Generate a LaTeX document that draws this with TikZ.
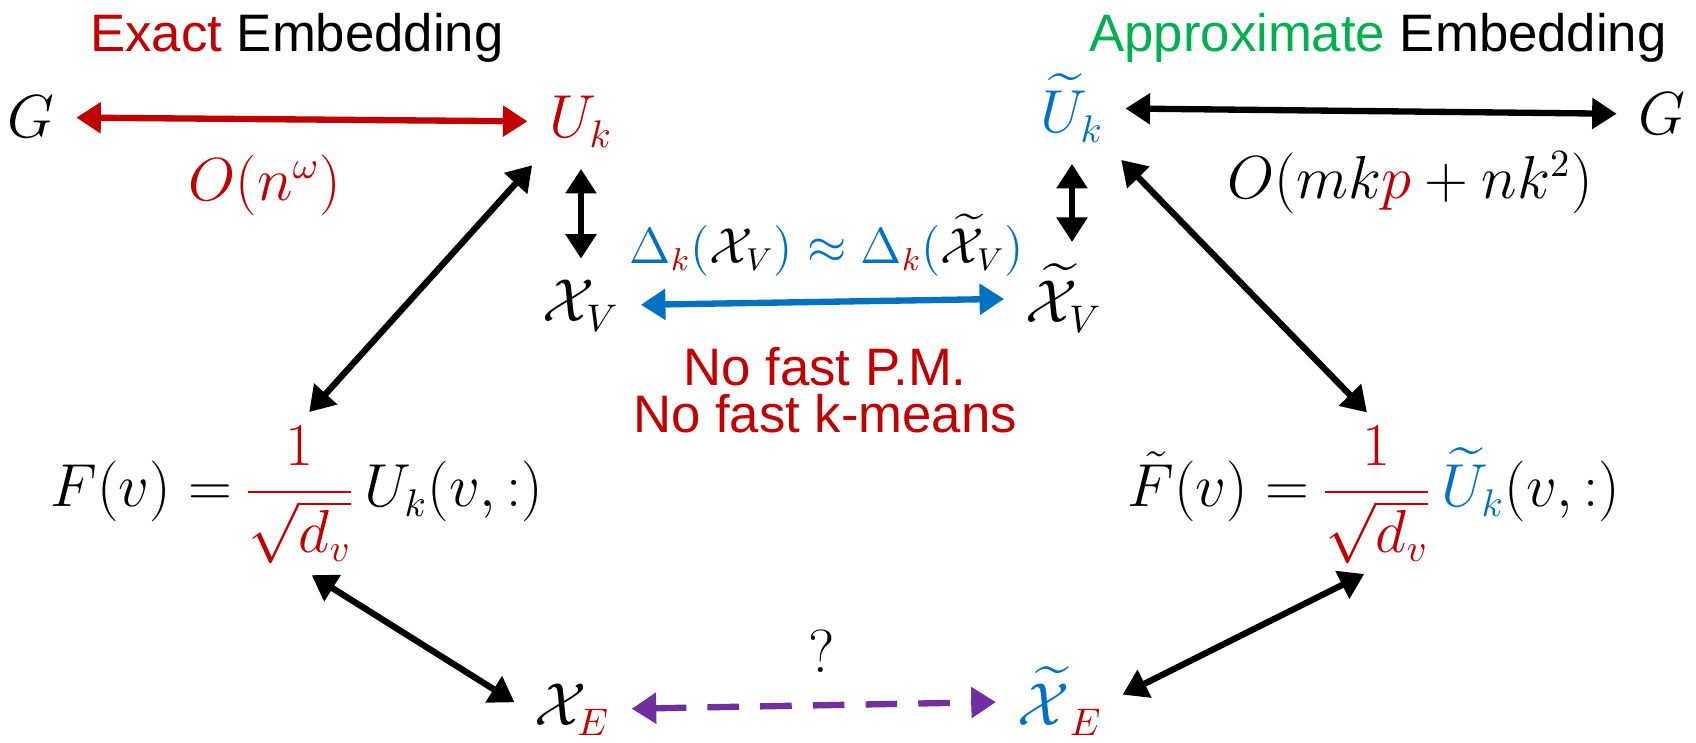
\documentclass[tikz,border=0pt]{standalone}
\usepackage{amsmath}
\usepackage{fontspec}
\setmainfont{Liberation Sans}
\definecolor{exred}{RGB}{192,0,0}
\definecolor{exblue}{RGB}{0,112,192}
\definecolor{exgreen}{RGB}{0,176,80}
\definecolor{expurple}{RGB}{112,48,160}
\usetikzlibrary{arrows.meta,positioning}

\begin{document}
\begin{tikzpicture}[
  mth/.style={font=\fontsize{16}{19}\selectfont,inner sep=2pt},
  ttl/.style={font=\fontsize{15}{18}\selectfont,inner sep=0pt},
  note/.style={font=\fontsize{15}{18}\selectfont,exred,inner sep=1pt},
  arr/.style={line width=1.8pt,{Triangle[length=7pt,width=8.5pt]}-{Triangle[length=7pt,width=8.5pt]},
    shorten >=4pt,shorten <=4pt}
]
  \useasboundingbox (0,0) rectangle (16.96,7.43);
  % Titles
  \node[ttl] (exact) at (2.97,7.05) {\textcolor{exred}{Exact} Embedding};
  \node[ttl] (approx) at (13.78,7.05) {\textcolor{exgreen}{Approximate} Embedding};
  % Top row
  \node[mth,anchor=base] (gl) at (0.31,6.05) {$G$};
  \node[mth,anchor=base] (uk) at (5.81,6.05) {$\textcolor{exred}{U_k}$};
  \node[mth,anchor=base] (ut) at (10.72,6.10) {$\textcolor{exblue}{\widetilde{U}_k}$};
  \node[mth,anchor=base] (gr) at (16.62,6.08) {$G$};
  \node[mth,text=exred] (on) at (2.65,5.58) {$O(n^{\omega})$};
  \node[mth] (omkp) at (14.10,5.60) {$O(mk\textcolor{exred}{p}+nk^2)$};
  % Middle row
  \node[mth,anchor=base] (xv) at (5.81,4.21) {$\mathcal{X}_V$};
  \node[mth,anchor=base] (xtv) at (10.64,4.20) {$\widetilde{\mathcal{X}}_V$};
  \node[mth,font=\fontsize{13.5}{16}\selectfont] (delta) at (8.27,4.98) {$\textcolor{exblue}{\Delta_{\textcolor{exred}{k}}(}\mathcal{X}_V\textcolor{exblue}{)\approx\Delta_{\textcolor{exred}{k}}(}\widetilde{\mathcal{X}}_V\textcolor{exblue}{)}$};
  \node[note] (pm) at (8.25,3.76) {No fast P.M.};
  \node[note,below=0pt of pm] (km) {No fast k-means};
  % Embedding formulas
  \node[mth,anchor=base west] (fl) at (0.43,2.36) {$F(v) =$};
  \node[mth,anchor=base west,inner sep=1pt] (lfrac) at (fl.base east) {$\displaystyle\textcolor{exred}{\frac{1}{\sqrt{d_v}}}$};
  \node[mth,anchor=base west,inner sep=1pt] (lu) at (lfrac.base east) {$U_k(v,{:})$};
  \node[mth,anchor=base west] (fr) at (11.20,2.36) {$\tilde{F}(v) =$};
  \node[mth,anchor=base west,inner sep=1pt] (rfrac) at (fr.base east) {$\displaystyle\textcolor{exred}{\frac{1}{\sqrt{d_v}}}$};
  \node[mth,anchor=base west,inner sep=1pt] (ru) at (rfrac.base east) {$\textcolor{exblue}{\widetilde{U}_k}(v,{:})$};
  % Bottom row
  \node[mth,anchor=base] (xe) at (5.72,0.17) {$\mathcal{X}_{\textcolor{exred}{E}}$};
  \node[mth,anchor=base] (xte) at (10.60,0.17) {$\textcolor{exblue}{\widetilde{\mathcal{X}}}_{\textcolor{exred}{E}}$};
  \node[mth] (q) at (8.22,0.92) {$?$};
  % Connectors
  \draw[arr,exred] (gl) -- (uk);
  \draw[arr] (ut) -- (gr);
  \draw[arr] (uk) -- (xv);
  \draw[arr] (ut.south) -- (ut.south |- xtv.north);
  \draw[arr,exblue] (xv) -- (xtv);
  \draw[arr] (uk.south west) -- (lfrac.north);
  \draw[arr] (ut.south east) -- (rfrac.north);
  \draw[arr] (lfrac.south) -- (xe.west);
  \draw[arr] (xte.east) -- (rfrac.south);
  \draw[arr,expurple,dash pattern=on 9pt off 6pt] (xe) -- (xte);
\end{tikzpicture}
\end{document}
